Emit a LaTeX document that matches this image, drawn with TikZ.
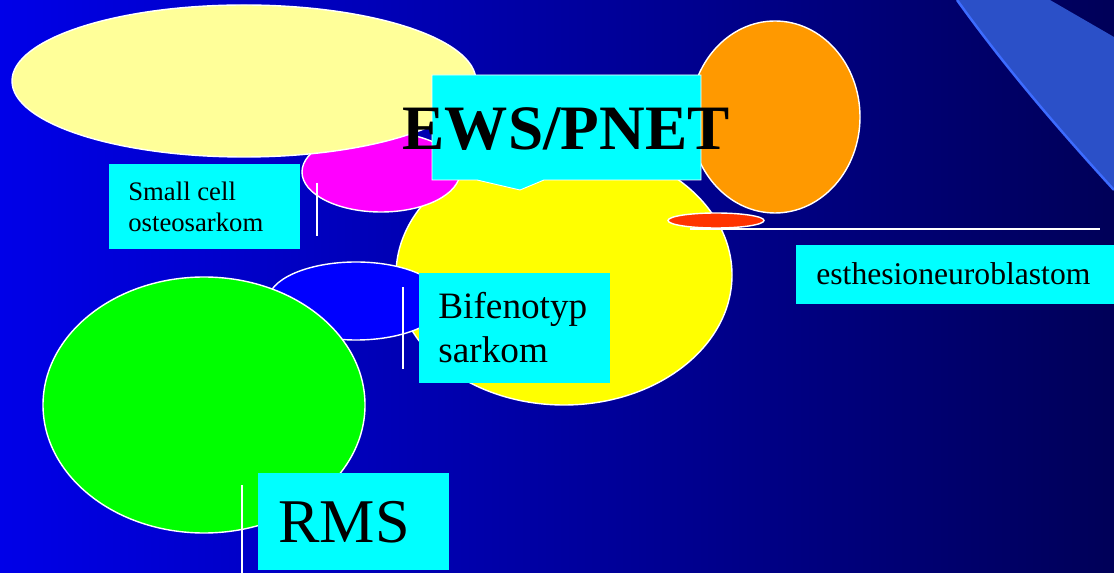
\documentclass[tikz,border=0pt]{standalone}
\usepackage{fontspec}
\setmainfont{Liberation Serif}
\usepackage{tikz}
\usetikzlibrary{positioning}
\definecolor{bgleft}{RGB}{0,0,232}
\definecolor{bgright}{RGB}{0,0,88}
\definecolor{bandfill}{RGB}{43,80,200}
\definecolor{bandedge}{RGB}{61,108,255}
\definecolor{paleyellow}{RGB}{255,255,153}
\definecolor{tumoryellow}{RGB}{255,255,0}
\definecolor{tumormagenta}{RGB}{255,0,255}
\definecolor{tumorblue}{RGB}{0,0,255}
\definecolor{tumorgreen}{RGB}{0,255,0}
\definecolor{tumororange}{RGB}{255,153,0}
\definecolor{tumorred}{RGB}{255,51,0}
\definecolor{labelcyan}{RGB}{0,255,255}
\tikzset{
  blob/.style={draw=white, line width=0.8pt},
  labelbox/.style={fill=labelcyan},
  tag/.style={inner sep=0pt, anchor=base west, align=left, text=black},
  pin/.style={draw=white, line width=0.8pt}
}

\begin{document}
\begin{tikzpicture}[x=0.02cm,y=-0.02cm]
    \useasboundingbox (0,0) rectangle (1114,573);
    % background and the swoosh top right
    \shade[left color=bgleft,right color=bgright] (0,0) rectangle (1114,573);
    \fill[bandfill] (957,0) .. controls (1000,60) and (1050,120) .. (1114,190) -- (1114,37) -- (1050,0) -- cycle;
    \draw[bandedge,line width=1.4pt] (957,0) .. controls (1000,60) and (1050,120) .. (1114,190);
    % the tumour groups
    \fill[tumoryellow,blob] (564,275) ellipse [x radius=168, y radius=130];
    \fill[tumororange,blob] (775,117) ellipse [x radius=85, y radius=96];
    \fill[tumormagenta,blob] (381,172) ellipse [x radius=79, y radius=40];
    \fill[paleyellow,blob] (244,81) ellipse [x radius=232, y radius=76];
    \fill[tumorblue,blob] (356,301) ellipse [x radius=88, y radius=39];
    \fill[tumorgreen,blob] (204,405) ellipse [x radius=161, y radius=128];
    % callout EWS/PNET
    \fill[labelcyan,draw=white,line width=0.5pt] (432,75) -- (701,75) -- (701,180) -- (544,180) -- (520,190) -- (477,180) -- (432,180) -- cycle;
    \node[font=\fontsize{36}{40}\selectfont\bfseries,inner sep=0pt,anchor=base] (ews) at (566,150) {EWS/PNET};
    % small cell
    \fill[labelbox] (109,164) rectangle (300,249);
    \node[tag,font=\fontsize{15.2}{18.1}\selectfont] (osteo) at (128,232) {Small cell\\osteosarkom};
    \coordinate (osteotop) at (317,183);
    \coordinate (osteobot) at (317,236);
    \draw[pin] (osteotop) -- (osteobot);
    % bifenotyp
    \fill[labelbox] (419,273) rectangle (610,383);
    \node[tag,font=\fontsize{21.2}{25.5}\selectfont] (bifeno) at (438,363) {Bifenotyp\\sarkom};
    \coordinate (bifenotop) at (403,287);
    \coordinate (bifenobot) at (403,369);
    \draw[pin] (bifenotop) -- (bifenobot);
    % esthesioneuroblastom
    \fill[tumorred,blob] (716,220.5) ellipse [x radius=48, y radius=7.5];
    \coordinate (esthleft) at (690,229);
    \coordinate (esthright) at (1100,229);
    \draw[pin] (esthleft) -- (esthright);
    \fill[labelbox] (796,245) rectangle (1114,304);
    \node[tag,font=\fontsize{18}{22}\selectfont] (esth) at (816,285) {esthesioneuroblastom};
    % RMS
    \fill[labelbox] (258,473) rectangle (449,570);
    \node[tag,font=\fontsize{35.4}{40}\selectfont] (rms) at (278,542) {RMS};
    \coordinate (rmstop) at (242,485);
    \coordinate (rmsbot) at (242,573);
    \draw[pin] (rmstop) -- (rmsbot);
\end{tikzpicture}
\end{document}
